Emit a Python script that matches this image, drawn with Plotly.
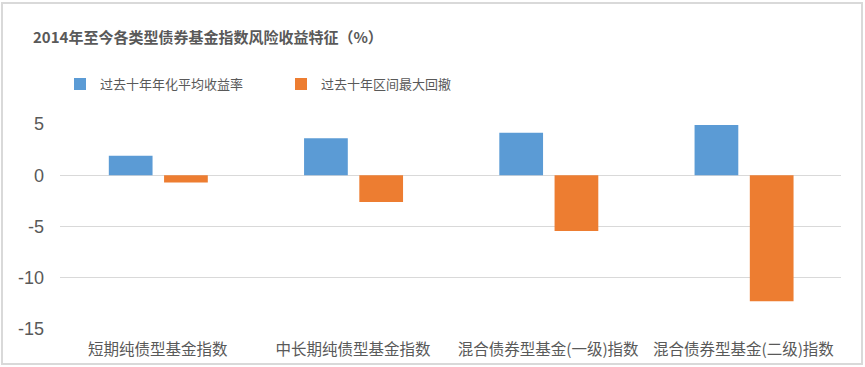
import plotly.graph_objects as go

categories = ["短期纯债型基金指数", "中长期纯债型基金指数", "混合债券型基金(一级)指数", "混合债券型基金(二级)指数"]
avg_return = [1.9, 3.6, 4.15, 4.9]
max_drawdown = [-0.7, -2.6, -5.45, -12.3]
series_names = ["过去十年年化平均收益率", "过去十年区间最大回撤"]
y_ticks = [5, 0, -5, -10, -15]

FONT = "Noto Sans CJK SC"
GRAY = "#595959"

fig = go.Figure()
fig.add_trace(go.Bar(x=categories, y=avg_return, name=series_names[0],
                     marker=dict(color="#5B9BD5", line=dict(width=0)),
                     offset=-0.25, width=0.224))
fig.add_trace(go.Bar(x=categories, y=max_drawdown, name=series_names[1],
                     marker=dict(color="#ED7D31", line=dict(width=0)),
                     offset=0.033, width=0.224))

fig.update_layout(
    width=865, height=367,
    margin=dict(l=60, r=24, t=124, b=38, autoexpand=False),
    paper_bgcolor="white", plot_bgcolor="white",
    font=dict(family=FONT, color=GRAY),
    title=dict(text="<b>2014年至今各类型债券基金指数风险收益特征（%）</b>",
               x=33/865, xanchor="left", y=1-38/367, yanchor="middle",
               font=dict(size=15, color=GRAY, family=FONT)),
    legend=dict(orientation="h", x=0.0, xanchor="left", y=1.195, yanchor="middle",
                font=dict(size=13, color=GRAY, family=FONT),
                entrywidth=176, entrywidthmode="pixels",
                bgcolor="rgba(0,0,0,0)", itemclick=False),
    barmode="overlay",
    showlegend=True,
)
fig.update_xaxes(showgrid=False, zeroline=False, showline=False,
                 tickfont=dict(size=15.5, color=GRAY, family=FONT),
                 ticks="", ticklabelstandoff=9)
fig.update_yaxes(range=[-15, 5], tickvals=y_ticks, ticktext=[str(v) for v in y_ticks],
                 showgrid=True, gridcolor="#d9d9d9", gridwidth=1,
                 zeroline=True, zerolinecolor="#d9d9d9", zerolinewidth=1,
                 showline=False, ticks="",
                 tickfont=dict(size=18, color=GRAY, family="Liberation Sans"),
                 ticklabelstandoff=15)

fig.add_shape(type="rect", xref="paper", yref="paper",
              x0=(2-60)/781, x1=(862-60)/781, y0=(329-364)/205, y1=(329-3)/205,
              line=dict(color="#d9d9d9", width=2), fillcolor="rgba(0,0,0,0)", layer="below")

fig.write_html("out.html", config={"displayModeBar": False},
               post_script="document.body.style.margin='0';")
